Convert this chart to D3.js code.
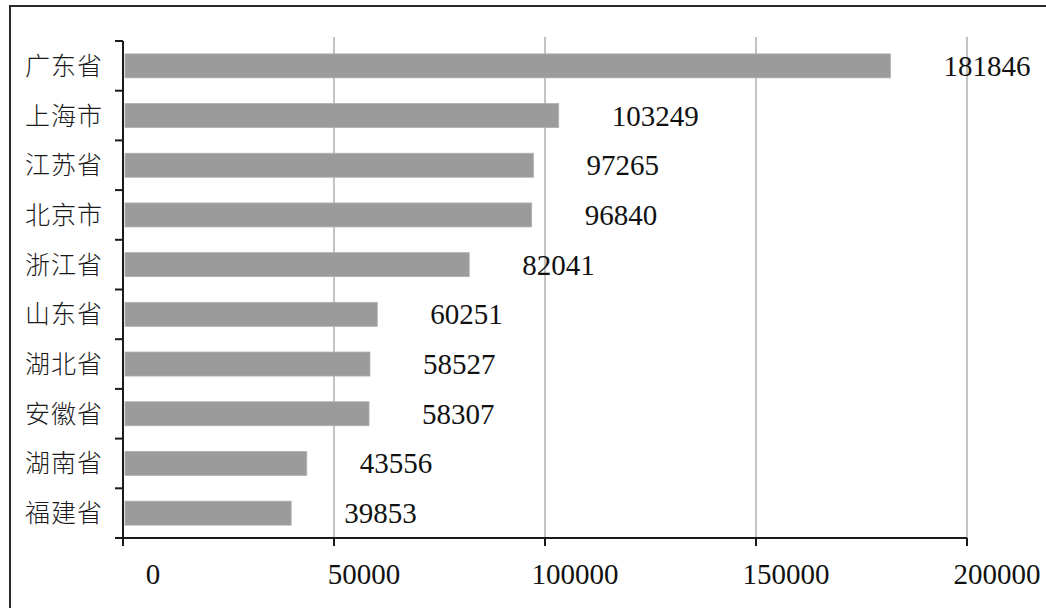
<!DOCTYPE html>
<html><head><meta charset="utf-8">
<script src="https://cdn.jsdelivr.net/npm/d3@7/dist/d3.min.js"></script>
<style>html,body{margin:0;padding:0;background:#fff;}svg{display:block;}</style>
</head><body>
<svg id="c" width="1046" height="608"></svg>
<script>
const categories = ["广东省","上海市","江苏省","北京市","浙江省","山东省","湖北省","安徽省","湖南省","福建省"];
const values = [181846,103249,97265,96840,82041,60251,58527,58307,43556,39853];
const xTicks = [0,50000,100000,150000,200000];

(function(){
const svg = d3.select("#c");
const pL = 123, pR = 967, pT = 41, pB = 538;
const x = d3.scaleLinear().domain([0,200000]).range([pL,pR]);
const y = d3.scaleBand().domain(categories).range([pT,pB]).padding(0);
const barH = 24;

// outer frame
svg.append("path").attr("d",`M10,${610} L10,6 L1050,6`).attr("fill","none").attr("stroke","#2a2a2a").attr("stroke-width",2);

// gridlines
svg.selectAll("line.grid").data(xTicks.slice(1)).join("line")
  .attr("x1",d=>x(d)).attr("x2",d=>x(d)).attr("y1",37).attr("y2",pB)
  .attr("stroke","#9c9c9c").attr("stroke-width",1.2);

// bars
svg.selectAll("rect.bar").data(values).join("rect")
  .attr("x",x(0)+2).attr("y",(d,i)=>y(categories[i])+(y.step()-barH)/2)
  .attr("width",d=>x(d)-x(0)-2).attr("height",barH)
  .attr("fill","#9b9b9b").attr("stroke","#b0b0b0").attr("stroke-width",0.8);

// value labels
svg.selectAll("text.val").data(values).join("text")
  .attr("x",d=>x(d)+53).attr("y",(d,i)=>y(categories[i])+y.step()/2+10)
  .attr("font-family","'Liberation Serif','Times New Roman',serif").attr("font-size",29)
  .attr("fill","#111").text(d=>d);

// left axis
svg.append("line").attr("x1",pL).attr("x2",pL).attr("y1",pT).attr("y2",pB+7)
  .attr("stroke","#1a1a1a").attr("stroke-width",2);
const bounds = categories.map(c=>y(c)).concat([pB]);
svg.selectAll("line.ytick").data(bounds).join("line")
  .attr("x1",pL-8).attr("x2",pL).attr("y1",d=>d).attr("y2",d=>d)
  .attr("stroke","#1a1a1a").attr("stroke-width",2);

// bottom axis
svg.append("line").attr("x1",pL-8).attr("x2",pR).attr("y1",pB).attr("y2",pB)
  .attr("stroke","#1a1a1a").attr("stroke-width",2);
svg.selectAll("line.xtick").data(xTicks).join("line")
  .attr("x1",d=>x(d)).attr("x2",d=>x(d)).attr("y1",pB).attr("y2",pB+8)
  .attr("stroke","#1a1a1a").attr("stroke-width",2);
svg.selectAll("text.xl").data(xTicks).join("text")
  .attr("x",d=>x(d)+30).attr("y",584).attr("text-anchor","middle")
  .attr("font-family","'Liberation Serif','Times New Roman',serif").attr("font-size",29)
  .attr("fill","#111").text(d=>d);

// category labels
svg.selectAll("text.cat").data(categories).join("text")
  .attr("x",103).attr("y",c=>y(c)+y.step()/2+9).attr("text-anchor","end")
  .attr("font-family","'Noto Sans CJK SC','Noto Sans CJK JP',sans-serif").attr("font-size",25)
  .attr("font-weight",300).attr("letter-spacing",1)
  .attr("fill","#1a1a1a").text(c=>c);
})();
</script>
</body></html>
